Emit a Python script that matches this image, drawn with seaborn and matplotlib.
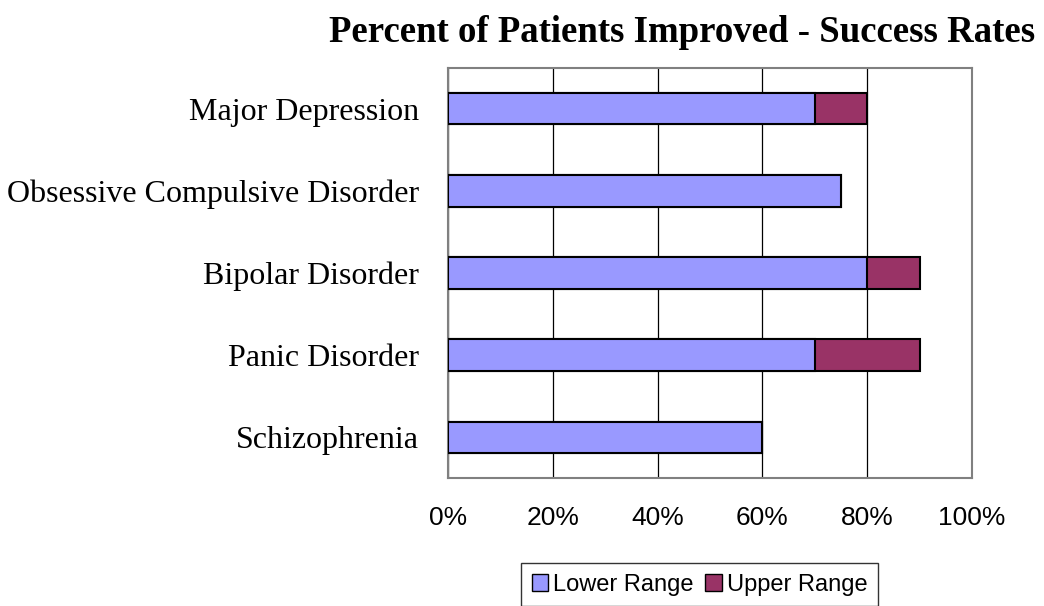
import pandas as pd
import matplotlib.pyplot as plt
import seaborn as sns
from matplotlib.patches import Patch

# Success rates by disorder (percent)
disorders = ['Major Depression', 'Obsessive Compulsive Disorder', 'Bipolar Disorder',
             'Panic Disorder', 'Schizophrenia']
lower_range = [70, 75, 80, 70, 60]
upper_range = [80, 75, 90, 90, 60]
x_ticks = [0, 20, 40, 60, 80, 100]

df = pd.DataFrame({'Disorder': disorders, 'Lower': lower_range, 'Upper': upper_range})

sns.set_style('white')
plt.rcParams['text.color'] = 'black'
plt.rcParams['xtick.color'] = 'black'
plt.rcParams['ytick.color'] = 'black'
lower_color = '#9999FF'
upper_color = '#993366'

fig = plt.figure(figsize=(10.44, 6.06), dpi=100)
ax = fig.add_axes([0.429, 0.211, 0.502, 0.677])

# upper range drawn first, lower range on top of it
sns.barplot(data=df, x='Upper', y='Disorder', orient='h', color=upper_color,
            edgecolor='black', linewidth=1.5, width=0.38, saturation=1, ax=ax, zorder=3)
sns.barplot(data=df, x='Lower', y='Disorder', orient='h', color=lower_color,
            edgecolor='black', linewidth=1.5, width=0.38, saturation=1, ax=ax, zorder=4)

ax.set_xlim(0, 100)
ax.set_ylim(4.5, -0.5)
ax.set_xticks(x_ticks)
ax.set_xticklabels([f'{t}%' for t in x_ticks], fontfamily='Liberation Sans', fontsize=19)
ax.set_yticklabels(disorders, fontfamily='Liberation Serif', fontsize=23)
ax.set_xlabel('')
ax.set_ylabel('')
ax.grid(axis='x', color='black', linewidth=0.9, zorder=0)
ax.set_axisbelow(True)
for s in ax.spines.values():
    s.set_color('#808080')
    s.set_linewidth(1.5)
ax.tick_params(axis='x', direction='out', length=7, color='#808080', width=1.5, pad=13)
ax.tick_params(axis='y', length=0, pad=21)

fig.text(0.653, 0.947, 'Percent of Patients Improved - Success Rates', ha='center', va='center',
         fontfamily='Liberation Serif', fontweight='bold', fontsize=26.5)

handles = [Patch(facecolor=lower_color, edgecolor='black', label='Lower Range'),
           Patch(facecolor=upper_color, edgecolor='black', label='Upper Range')]
leg = fig.legend(handles=handles, loc='center', bbox_to_anchor=(0.67, 0.035), ncol=2,
                 frameon=True, fancybox=False, prop={'family': 'Liberation Sans', 'size': 17},
                 handlelength=0.7, handleheight=0.7, handletextpad=0.2, columnspacing=0.5,
                 borderpad=0.45)
leg.get_frame().set_edgecolor('black')
leg.get_frame().set_linewidth(1.0)

fig.savefig('out.png', dpi=100)
